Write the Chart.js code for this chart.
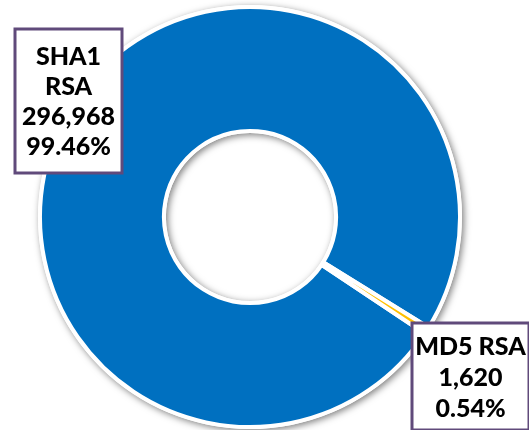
<!DOCTYPE html>
<html>
<head>
<meta charset="utf-8">
<script src="https://cdn.jsdelivr.net/npm/chart.js@4"></script>
<style>
  html, body { margin: 0; padding: 0; background: #fff; }
  #wrap { width: 529px; height: 430px; }
</style>
</head>
<body>
<div id="wrap"><canvas id="chart"></canvas></div>
<script>
// Chart data
const categories = ['SHA1 RSA', 'MD5 RSA'];
const counts = [296968, 1620];
const sliceColors = ['#0070C0', '#FFC000'];

const total = counts.reduce((a, b) => a + b, 0);

// Soft shadow behind the ring (outer edge and inside the hole)
const ringShadow = {
    id: 'ringShadow',
    beforeDatasetsDraw(chart) {
        const arc = chart.getDatasetMeta(0).data[0];
        if (!arc) return;
        const { x, y, outerRadius, innerRadius } = arc.getProps(['x', 'y', 'outerRadius', 'innerRadius'], true);
        const ctx = chart.ctx;
        ctx.save();
        ctx.shadowColor = 'rgba(0, 0, 0, 0.5)';
        ctx.shadowBlur = 7;
        ctx.shadowOffsetX = 2;
        ctx.shadowOffsetY = 2;
        ctx.fillStyle = '#fff';
        ctx.beginPath();
        ctx.arc(x, y, outerRadius + 2, 0, Math.PI * 2);
        ctx.arc(x, y, innerRadius - 2, 0, Math.PI * 2, true);
        ctx.fill();
        ctx.restore();
    }
};

// Boxed labels, placed relative to the ring centre
const boxes = [
    { index: 0, dx: -235, dy: -188, w: 107, h: 144, wrap: true },
    { index: 1, dx: 162, dy: 106, w: 117, h: 107, wrap: false }
];

const boxLabels = {
    id: 'boxLabels',
    afterDraw(chart) {
        const arc = chart.getDatasetMeta(0).data[0];
        if (!arc) return;
        const { x, y } = arc.getProps(['x', 'y'], true);
        const ctx = chart.ctx;
        ctx.save();
        boxes.forEach(b => {
            const left = x + b.dx;
            const top = y + b.dy;
            ctx.fillStyle = '#fff';
            ctx.fillRect(left, top, b.w, b.h);
            ctx.strokeStyle = '#604A7B';
            ctx.lineWidth = 3;
            ctx.strokeRect(left, top, b.w, b.h);

            const name = categories[b.index];
            const pct = (counts[b.index] / total * 100).toFixed(2) + '%';
            const lines = (b.wrap ? name.split(' ') : [name])
                .concat([counts[b.index].toLocaleString('en-US'), pct]);

            ctx.fillStyle = '#000';
            ctx.font = '900 25px Lato';
            ctx.textAlign = 'center';
            ctx.textBaseline = 'middle';
            const lh = b.wrap ? 30 : 31;
            const cy = top + b.h / 2 - (lines.length - 1) * lh / 2;
            lines.forEach((t, i) => ctx.fillText(t, left + b.w / 2, cy + i * lh + 1));
        });
        ctx.restore();
    }
};

new Chart(document.getElementById('chart'), {
    type: 'doughnut',
    data: {
        labels: categories,
        datasets: [{
            data: counts,
            backgroundColor: sliceColors,
            borderColor: '#fff',
            borderWidth: 4
        }]
    },
    options: {
        responsive: true,
        maintainAspectRatio: false,
        animation: false,
        cutout: '41%',
        rotation: 123.7,
        layout: { padding: { left: 0, right: 29, top: 5, bottom: 1 } },
        plugins: {
            legend: { display: false },
            tooltip: { enabled: false }
        }
    },
    plugins: [ringShadow, boxLabels]
});
</script>
</body>
</html>
